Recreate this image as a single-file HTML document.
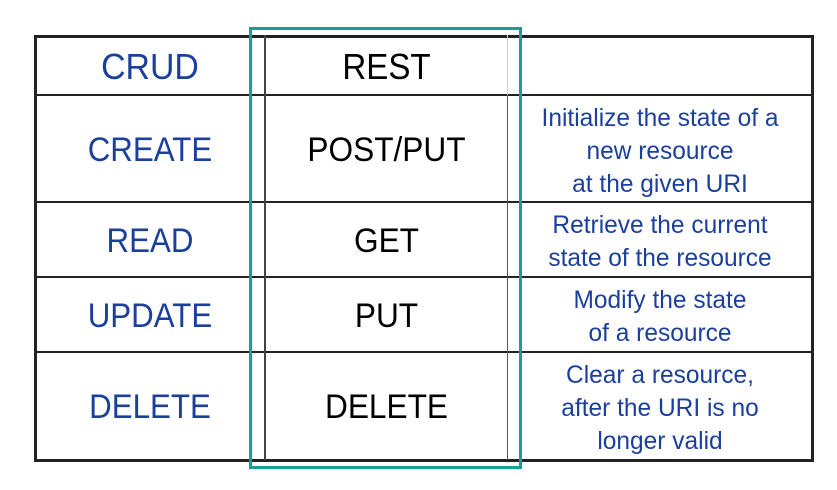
<!DOCTYPE html>
<html><head><style>
html,body{margin:0;padding:0;background:#fff;width:837px;height:490px;overflow:hidden;position:relative;font-family:"Liberation Sans",sans-serif}
.h{position:absolute;height:2px;background:#222;left:35px;width:778px}
.v{position:absolute;width:2px;background:#222}
.t{position:absolute;text-align:center;white-space:nowrap;transform-origin:center;}
.b{color:#1b3f9c}
.k{color:#000}
</style></head><body>
<div class="h" style="top:35px;height:3px"></div>
<div class="h" style="top:94px"></div>
<div class="h" style="top:201px"></div>
<div class="h" style="top:276px"></div>
<div class="h" style="top:351px"></div>
<div class="h" style="top:459px;height:3px"></div>
<div class="v" style="left:34px;top:35px;height:427px;width:3px"></div>
<div class="v" style="left:811px;top:35px;height:427px;width:3px"></div>
<div class="v" style="left:264px;top:35px;height:425px;background:#444"></div>
<div class="v" style="left:507px;top:35px;height:60px;width:1px;background:#ccc"></div>
<div class="v" style="left:507px;top:95px;height:365px;background:#555;width:1px"></div>
<div style="position:absolute;left:249px;top:27px;width:267px;height:436px;border:3px solid #1a9e98"></div>

<div class="t b" style="left:35px;width:230px;top:46px;font-size:36px;transform:scaleX(.94)">CRUD</div>
<div class="t k" style="left:265px;width:243px;top:46px;font-size:36px;transform:scaleX(.92)">REST</div>
<div class="t b" style="left:35px;width:230px;top:131px;font-size:34px;transform:scaleX(.92)">CREATE</div>
<div class="t k" style="left:265px;width:243px;top:131px;font-size:34px;transform:scaleX(.93)">POST/PUT</div>
<div class="t b" style="left:35px;width:230px;top:222px;font-size:34px;transform:scaleX(.92)">READ</div>
<div class="t k" style="left:265px;width:243px;top:222px;font-size:34px;transform:scaleX(.93)">GET</div>
<div class="t b" style="left:35px;width:230px;top:297px;font-size:34px;transform:scaleX(.92)">UPDATE</div>
<div class="t k" style="left:265px;width:243px;top:297px;font-size:34px;transform:scaleX(.93)">PUT</div>
<div class="t b" style="left:35px;width:230px;top:388px;font-size:34px;transform:scaleX(.92)">DELETE</div>
<div class="t k" style="left:265px;width:243px;top:388px;font-size:34px;transform:scaleX(.93)">DELETE</div>

<div class="t b" style="left:508px;width:304px;top:102px;font-size:25px;line-height:33px;transform:scaleX(.98)">Initialize the state of a<br>new resource<br>at the given URI</div>
<div class="t b" style="left:508px;width:304px;top:209px;font-size:25px;line-height:33px;transform:scaleX(.98)">Retrieve the current<br>state of the resource</div>
<div class="t b" style="left:508px;width:304px;top:284px;font-size:25px;line-height:33px;transform:scaleX(.98)">Modify the state<br>of a resource</div>
<div class="t b" style="left:508px;width:304px;top:359px;font-size:25px;line-height:33px;transform:scaleX(.98)">Clear a resource,<br>after the URI is no<br>longer valid</div>
</body></html>
